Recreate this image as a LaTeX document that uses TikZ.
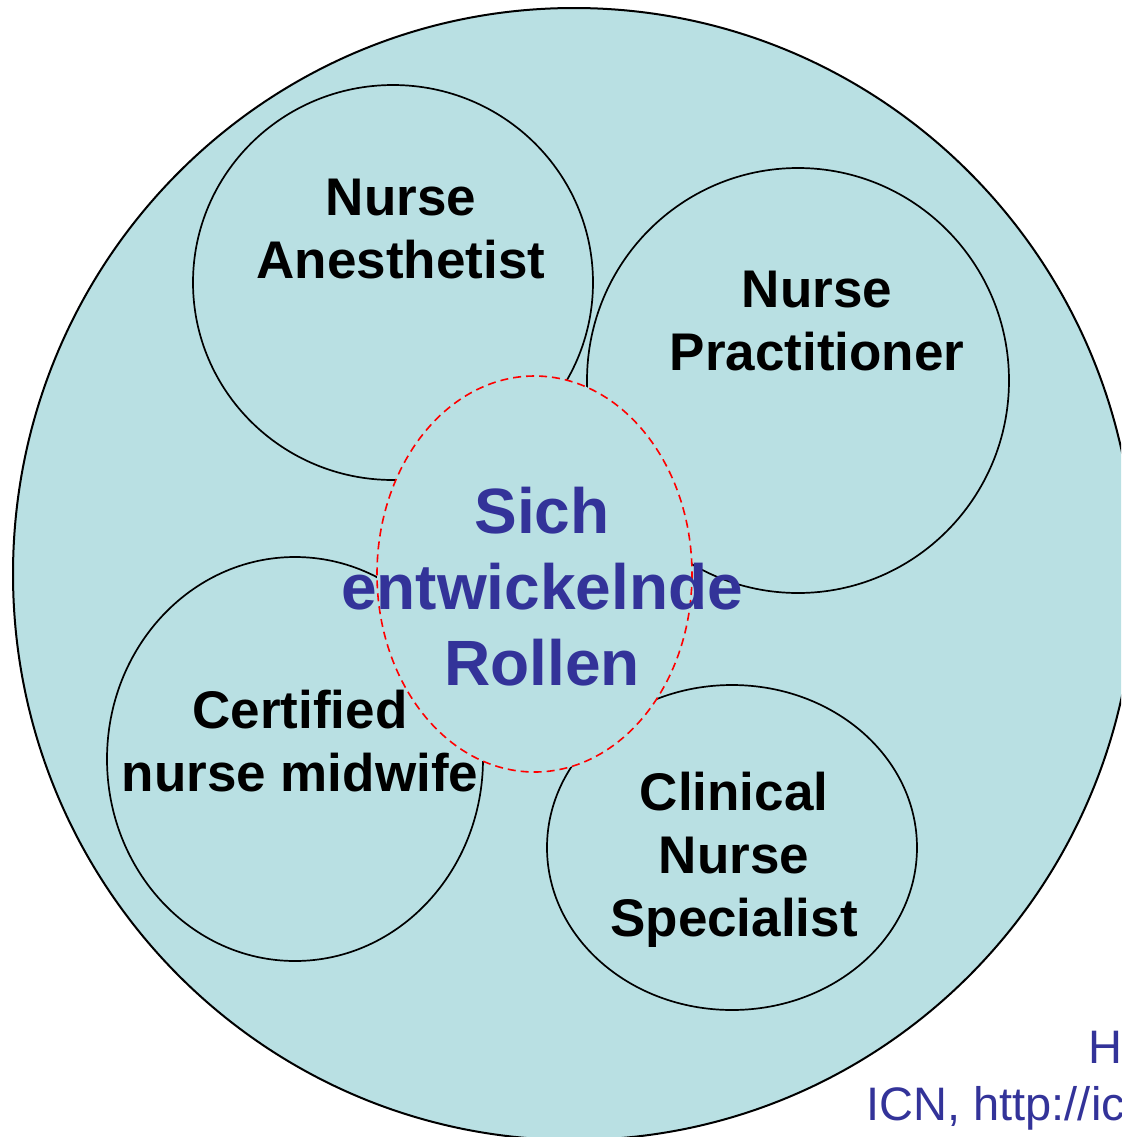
\documentclass[tikz,border=0pt]{standalone}
\usepackage{fontspec}
\setmainfont{Liberation Sans}
\definecolor{paleblue}{RGB}{185,224,227}
\definecolor{roleblue}{RGB}{51,51,153}

\begin{document}
\begin{tikzpicture}[x=0.5pt, y=-0.5pt,
		ring/.style = {draw, fill=paleblue, line width=0.85pt},
		role/.style = {align=center, inner sep=0pt, font=\fontsize{26.5}{31.5}\selectfont\bfseries},
		core/.style = {role, text=roleblue, font=\fontsize{32}{38}\selectfont\bfseries},
		note/.style = {anchor=base west, inner sep=0pt, text=roleblue, font=\fontsize{23.5}{28.5}\selectfont}]
	
	\useasboundingbox (0,0) rectangle (1121,1137);
	\clip (0,0) rectangle (1121,1137);
	
	% outer field and the four roles
	\draw[ring, line width=1pt] (574,574) ellipse [x radius=561, y radius=566];
	\draw[ring] (393,282.5) ellipse [x radius=200, y radius=197.5];
	\draw[ring] (798,380.5) ellipse [x radius=211, y radius=212.5];
	\draw[ring] (295,759) ellipse [x radius=188, y radius=202];
	\draw[ring] (732,847.5) ellipse [x radius=185, y radius=162.5];
	
	% overlap in the middle
	\draw[ring, draw=red, line width=0.8pt, dash pattern=on 4pt off 2.5pt] (534.5,574) ellipse [x radius=157.5, y radius=198];
	
	\node[role] (c1) at (401,229) {Nurse\\Anesthetist};
	\node[role] (c2) at (817,321) {Nurse\\Practitioner};
	\node[role] (c3) at (300,741) {Certified\\nurse midwife};
	\node[role] (c4) at (734,860) {Clinical\\Nurse\\Specialist};
	\node[core] (c0) at (542,587) {Sich\\entwickelnde\\Rollen};
	
	\node[note] (n1) at (1088,1063) {H};
	\node[note] (n2) at (866,1120) {ICN, http://ic};
\end{tikzpicture}
\end{document}
